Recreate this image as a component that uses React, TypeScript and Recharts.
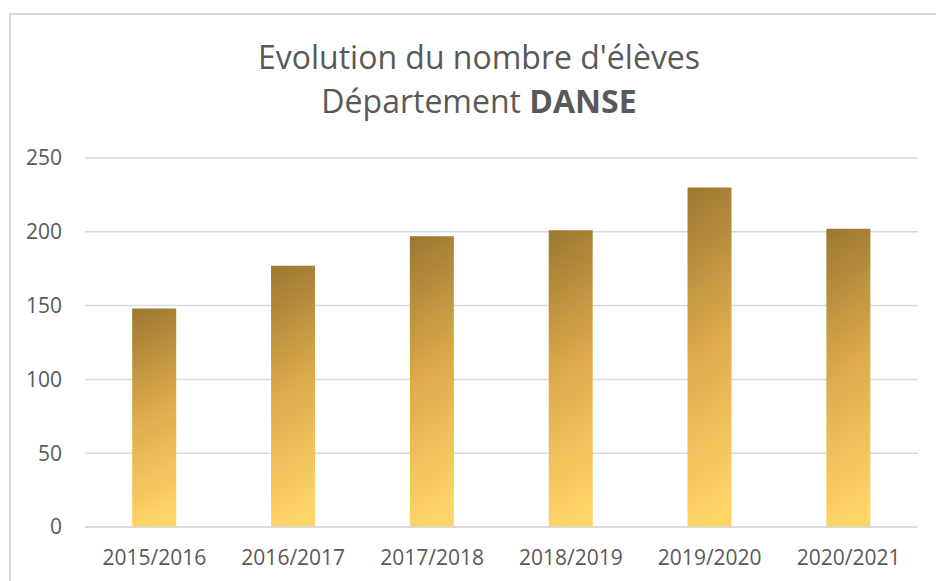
import { Bar, BarChart, CartesianGrid, XAxis, YAxis } from 'recharts';

const seasons = ['2015/2016', '2016/2017', '2017/2018', '2018/2019', '2019/2020', '2020/2021'];
const students = [148, 177, 197, 201, 230, 202];
const yTicks = [0, 50, 100, 150, 200, 250];

const FONT = '"Open Sans", Calibri, sans-serif';
const TEXT = '#595959';

export default function App() {
  const data = seasons.map((s, i) => ({ season: s, eleves: students[i] }));

  return (
    <div style={{ position: 'fixed', left: 0, top: 0, width: 936, height: 581, background: '#fff', overflow: 'hidden' }}>
      <div
        style={{
          position: 'absolute',
          left: 9,
          top: 13,
          width: 960,
          height: 620,
          border: '2px solid #d9d9d9',
        }}
      />
      <div
        style={{
          position: 'absolute',
          left: 0,
          width: 958,
          top: 35,
          textAlign: 'center',
          fontFamily: FONT,
          fontSize: 32,
          lineHeight: '44px',
          color: TEXT,
        }}
      >
        Evolution du nombre d'élèves
        <br />
        Département <b>DANSE</b>
      </div>
      <BarChart
        width={936}
        height={581}
        data={data}
        margin={{ top: 158, right: 18, bottom: 24, left: 0 }}
        barCategoryGap="34%"
        style={{ position: 'absolute', left: 0, top: 0 }}
      >
        <defs>
          <linearGradient id="gold" x1="0" y1="0" x2="0.1" y2="1">
            <stop offset="0%" stopColor="#9b7731" />
            <stop offset="50%" stopColor="#dcaa4b" />
            <stop offset="100%" stopColor="#ffd467" />
          </linearGradient>
        </defs>
        <CartesianGrid vertical={false} stroke="#d9d9d9" strokeWidth={1.5} />
        <XAxis
          dataKey="season"
          axisLine={{ stroke: '#d9d9d9', strokeWidth: 1.5 }}
          tickLine={false}
          tickMargin={17}
          tick={{ fontSize: 21, fill: TEXT, fontFamily: FONT }}
          interval={0}
        />
        <YAxis
          width={85}
          domain={[0, 250]}
          ticks={yTicks}
          axisLine={false}
          tickLine={false}
          tickMargin={17}
          tick={{ fontSize: 21, fill: TEXT, fontFamily: FONT }}
        />
        <Bar dataKey="eleves" fill="url(#gold)" isAnimationActive={false} />
      </BarChart>
    </div>
  );
}
